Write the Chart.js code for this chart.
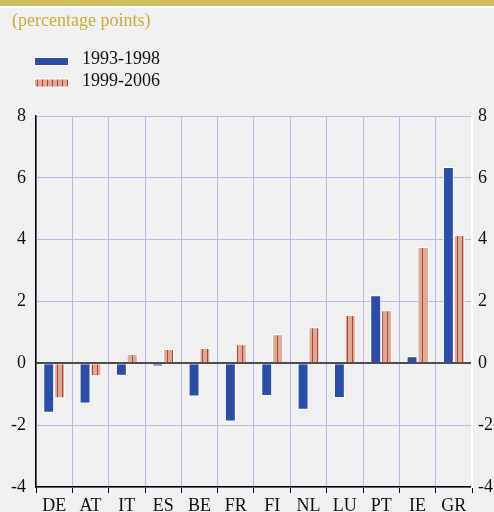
<!DOCTYPE html>
<html>
<head>
<meta charset="utf-8">
<script src="https://cdn.jsdelivr.net/npm/chart.js@4.4.1/dist/chart.umd.min.js"></script>
<style>
html,body{margin:0;padding:0;background:#f0f0f0;}
#wrap{position:relative;width:494px;height:512px;overflow:hidden;}
canvas{display:block;}
</style>
</head>
<body>
<div id="wrap"><canvas id="c" width="494" height="512"></canvas></div>
<script>
const categories = ['DE','AT','IT','ES','BE','FR','FI','NL','LU','PT','IE','GR'];
const period1 = [-1.6, -1.3, -0.4, -0.1, -1.07, -1.88, -1.06, -1.5, -1.12, 2.2, 0.23, 6.35];
const period2 = [-1.13, -0.41, 0.3, 0.46, 0.5, 0.62, 0.94, 1.17, 1.56, 1.72, 3.76, 4.15];
const seriesNames = ['1993-1998', '1999-2006'];
const yTicks = [-4, -2, 0, 2, 4, 6, 8];
const titleText = '(percentage points)';

const BLUE = '#2b4ca8';
const FONT = '"Liberation Serif", "Times New Roman", serif';

function makePattern() {
  const pc = document.createElement('canvas');
  pc.width = 5; pc.height = 10;
  const g = pc.getContext('2d');
  g.fillStyle = '#dcaa97';
  g.fillRect(0, 0, 5, 10);
  g.fillStyle = '#b8402f';
  g.fillRect(2, 0, 1, 10);
  return document.getElementById('c').getContext('2d').createPattern(pc, 'repeat');
}
const STRIPES = makePattern();

const decor = {
  id: 'decor',
  beforeDraw(chart) {
    const ctx = chart.ctx;
    ctx.save();
    ctx.fillStyle = '#f0f0f0';
    ctx.fillRect(0, 0, chart.width, chart.height);
    ctx.fillStyle = '#cdbf5c';
    ctx.fillRect(0, 0, chart.width, 6);
    ctx.fillStyle = '#ffffff';
    ctx.fillRect(0, 6, chart.width, 2);
    ctx.font = '18px ' + FONT;
    ctx.textBaseline = 'middle';
    ctx.textAlign = 'left';
    ctx.fillStyle = '#c4b035';
    ctx.fillText(titleText, 12, 21);
    // legend
    const fills = [BLUE, STRIPES];
    const ys = [61.5, 83];
    for (let i = 0; i < 2; i++) {
      ctx.fillStyle = '#ffffff';
      ctx.fillRect(34, ys[i] - 4.5, 35, 9);
      ctx.fillStyle = fills[i];
      ctx.fillRect(35, ys[i] - 3.5, 33, 7);
      ctx.fillStyle = '#111111';
      ctx.fillText(seriesNames[i], 82, ys[i] - 2);
    }
    ctx.restore();
  }
};

new Chart(document.getElementById('c'), {
  type: 'bar',
  data: {
    labels: categories,
    datasets: [
      { label: seriesNames[0], data: period1, backgroundColor: BLUE, borderColor: '#ffffff', borderWidth: 1, yAxisID: 'y' },
      { label: seriesNames[1], data: period2, backgroundColor: STRIPES, borderColor: '#ffffff', borderWidth: 1, yAxisID: 'y' }
    ]
  },
  options: {
    responsive: false,
    animation: false,
    events: [],
    layout: { padding: { top: 116, left: 0, right: 0, bottom: 0 } },
    plugins: { legend: { display: false }, title: { display: false }, tooltip: { enabled: false } },
    datasets: { bar: { categoryPercentage: 0.6, barPercentage: 1.0 } },
    scales: {
      x: {
        offset: true,
        grid: { offset: true, color: '#b6bbe6', lineWidth: 1, drawTicks: true, tickLength: 6, tickColor: '#000000' },
        border: { display: true, color: '#000000', width: 1.5 },
        ticks: { color: '#111111', font: { family: FONT, size: 18 }, padding: 2, maxRotation: 0, autoSkip: false },
        afterFit(s) { s.height = 25; }
      },
      y: {
        position: 'left',
        min: -4, max: 8,
        afterBuildTicks(s) { s.ticks = yTicks.map(v => ({ value: v })); },
        grid: {
          drawTicks: false,
          color: c => (c.tick && c.tick.value === 0) ? '#4d4d4d' : '#b6bbe6',
          lineWidth: c => (c.tick && c.tick.value === 0) ? 2 : 1
        },
        border: { display: true, color: '#000000', width: 1.5 },
        ticks: { color: '#111111', font: { family: FONT, size: 18 }, padding: 10 },
        afterFit(s) { s.width = 36; }
      },
      y2: {
        position: 'right',
        min: -4, max: 8,
        afterBuildTicks(s) { s.ticks = yTicks.map(v => ({ value: v })); },
        grid: { display: false, drawTicks: false },
        border: { display: true, color: '#ffffff', width: 2 },
        ticks: { color: '#111111', font: { family: FONT, size: 18 }, padding: 6, align: 'center' },
        afterFit(s) { s.width = 22; }
      }
    }
  },
  plugins: [decor]
});
</script>
</body>
</html>
